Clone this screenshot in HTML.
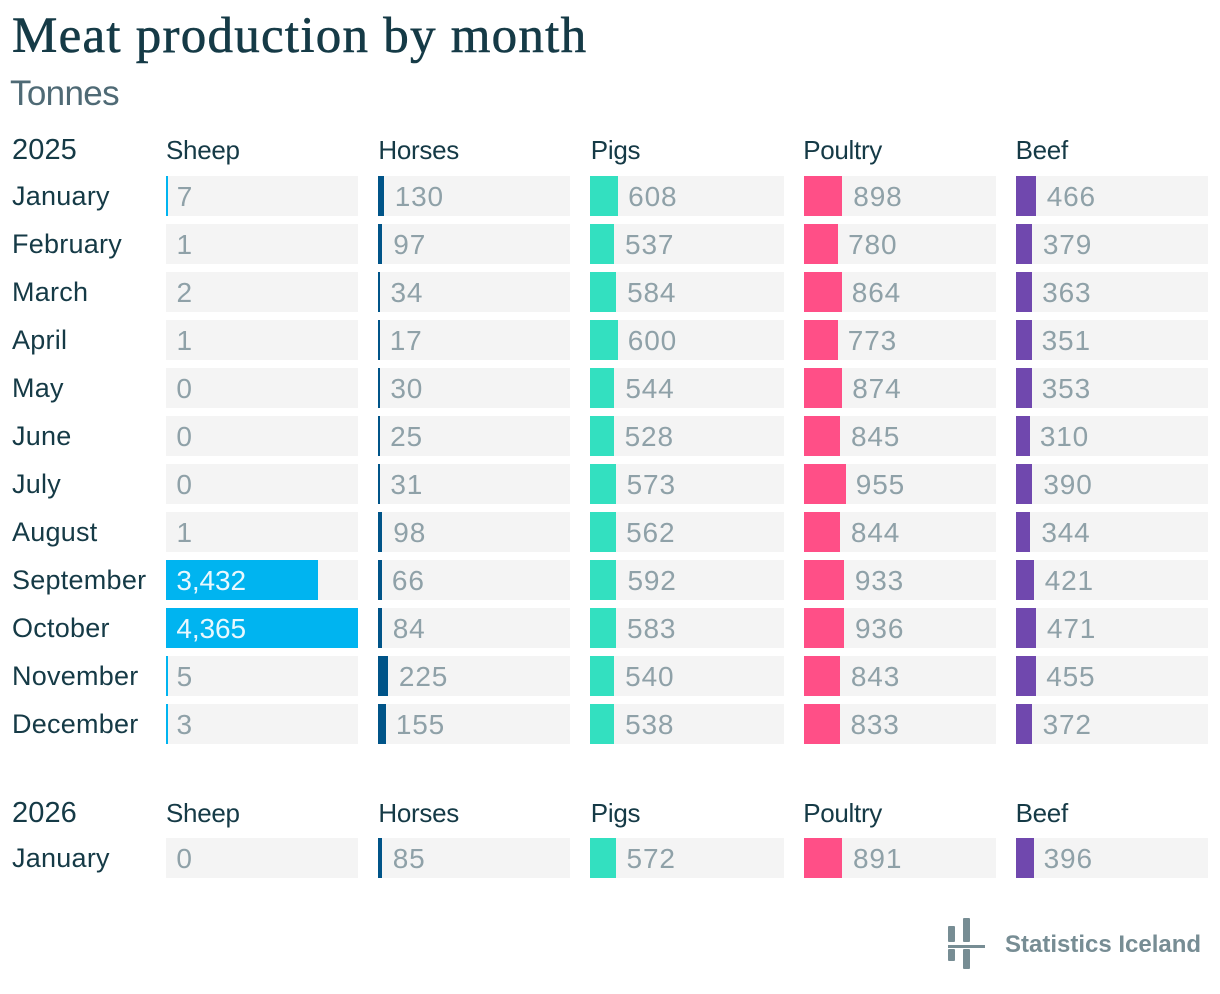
<!DOCTYPE html>
<html lang="en">
<head>
<meta charset="utf-8">
<title>Meat production by month</title>
<style>
html,body{margin:0;padding:0;background:#fff;}
#chart{position:relative;width:1220px;height:994px;overflow:hidden;background:#fff;font-family:"Liberation Sans",sans-serif;color:#153a46;}
#chart div{position:absolute;white-space:nowrap;}
.title{left:12px;top:6px;font-family:"Liberation Serif",serif;font-size:51px;line-height:60px;letter-spacing:1.25px;-webkit-text-stroke:.6px #153a46;}
.subtitle{left:10px;top:72px;font-size:35px;line-height:44px;color:#4f6a75;letter-spacing:-.65px;}
.year{font-size:29px;line-height:40px;letter-spacing:.1px;}
.head{font-size:26px;line-height:40px;letter-spacing:-.3px;}
.month{left:12px;font-size:27px;line-height:40px;letter-spacing:.25px;}
.track{height:40px;background:#f4f4f4;}
.bar{height:40px;}
.val{font-size:28px;line-height:40px;color:#8fa1a8;letter-spacing:.85px;}
.val.inside{color:#e8f8fe;letter-spacing:-.1px;}
.brand{left:1005px;top:929px;font-size:24px;line-height:32px;font-weight:bold;color:#778d94;letter-spacing:0;}
</style>
</head>
<body>
<div id="chart">
  <div class="title">Meat production by month</div>
  <div class="subtitle">Tonnes</div>
  <svg style="position:absolute;left:0;top:0" width="1220" height="994">
    <rect x="948" y="926" width="7" height="16" rx="1" fill="#778d94"/>
    <rect x="948" y="949" width="7" height="12" rx="1" fill="#778d94"/>
    <rect x="963" y="918" width="7" height="24" rx="1" fill="#778d94"/>
    <rect x="963" y="949" width="7" height="20" rx="1" fill="#778d94"/>
    <rect x="948" y="945" width="37" height="3" fill="#778d94"/>
  </svg>
  <div class="brand">Statistics Iceland</div>
</div>
<script>
const seriesNames = ['Sheep', 'Horses', 'Pigs', 'Poultry', 'Beef'];
const seriesColors = ['#00b4f0', '#005488', '#33e0c0', '#ff4f87', '#7048ae'];
const months2025 = ['January', 'February', 'March', 'April', 'May', 'June', 'July', 'August', 'September', 'October', 'November', 'December'];
const sheep2025 = [7, 1, 2, 1, 0, 0, 0, 1, 3432, 4365, 5, 3];
const horses2025 = [130, 97, 34, 17, 30, 25, 31, 98, 66, 84, 225, 155];
const pigs2025 = [608, 537, 584, 600, 544, 528, 573, 562, 592, 583, 540, 538];
const poultry2025 = [898, 780, 864, 773, 874, 845, 955, 844, 933, 936, 843, 833];
const beef2025 = [466, 379, 363, 351, 353, 310, 390, 344, 421, 471, 455, 372];
const months2026 = ['January'];
const sheep2026 = [0];
const horses2026 = [85];
const pigs2026 = [572];
const poultry2026 = [891];
const beef2026 = [396];

const chart = document.getElementById('chart');
const COL_LEFT = [166.9, 378.4, 590.8, 803.2, 1015.6];
const TRACK_RIGHT = [358, 570, 784, 996, 1208];
const COL_WIDTH = 192;
const domainMax = Math.max(...sheep2025, ...horses2025, ...pigs2025, ...poultry2025, ...beef2025, ...sheep2026, ...horses2026, ...pigs2026, ...poultry2026, ...beef2026);
function xScale(v) { return v / domainMax * COL_WIDTH; }
function snap(x) { return 2 * Math.round(x / 2); }
function fmt(v) { return v.toLocaleString('en-US'); }
function slug(s) { return s.toLowerCase(); }

function place(cls, left, top, width, text) {
  const el = document.createElement('div');
  el.className = cls;
  el.style.left = left + 'px';
  el.style.top = top + 'px';
  if (width !== null) el.style.width = width + 'px';
  if (text !== null) el.textContent = text;
  chart.appendChild(el);
  return el;
}

function drawTable(year, headerTop, rowsTop, months, columns) {
  const yearEl = place('year', 12, headerTop, null, year);
  
  
  seriesNames.forEach(function (name, c) {
    const head = place('head', COL_LEFT[c] - 0.9 + (c ? 0.9 : 0), headerTop, null, name);
    
    
  });
  months.forEach(function (month, r) {
    const top = rowsTop + r * 48;
    const label = place('month', 12, top, null, month);
    
    
    columns.forEach(function (values, c) {
      const v = values[r];
      const left = COL_LEFT[c];
      const w = xScale(v);
      const x0 = snap(left);
      const x1 = snap(left + w);
      const track = place('track', x0, top, TRACK_RIGHT[c] - x0, null);
      
      
      const bar = place('bar', x0, top, x1 - x0, null);
      bar.style.background = seriesColors[c];
      
      
      const inside = w > COL_WIDTH / 2;
      const textLeft = inside ? left + 9.5 : left + w + (c ? 10.6 : 9.5);
      const val = place(inside ? 'val inside' : 'val', textLeft, top + 0.5, null, fmt(v));
      
      
    });
  });
}

drawTable('2025', 130, 176, months2025, [sheep2025, horses2025, pigs2025, poultry2025, beef2025]);
drawTable('2026', 793, 838, months2026, [sheep2026, horses2026, pigs2026, poultry2026, beef2026]);
</script>
</body>
</html>
